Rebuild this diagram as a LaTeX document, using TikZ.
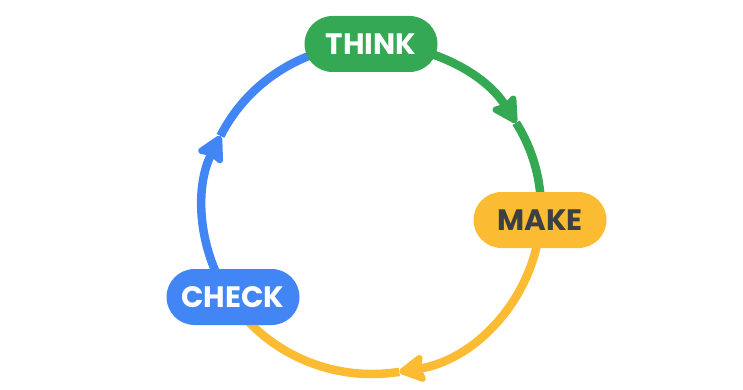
\documentclass[tikz,border=0pt]{standalone}
\usepackage{fontspec}
\setmainfont{Poppins}
\usetikzlibrary{arrows.meta, calc, shapes.misc, backgrounds}
\definecolor{gthink}{HTML}{34A853}
\definecolor{gmake}{HTML}{FBBC33}
\definecolor{gcheck}{HTML}{4285F4}
\definecolor{gtext}{HTML}{3C4043}
\tikzset{
	pill/.style={rounded rectangle, minimum width=133pt, minimum height=56pt, inner sep=0pt,
		font=\fontsize{29.5}{34}\selectfont\bfseries},
	ring/.style={line width=8.5pt},
	tiphead/.style={-{Stealth[length=30pt, width=32pt, inset=4pt, round]}}
}

\begin{document}
\begin{tikzpicture}[x=1pt,y=1pt]
	\useasboundingbox (0,0) rectangle (743,389);
	\coordinate (o) at (372,180);
	\def\rx{169}\def\ry{165}
	% stages
	\node[pill, fill=gthink, text=white] (think) at (371,345) {THINK};
	\node[pill, fill=gmake, text=gtext] (make) at (540,169) {MAKE};
	\node[pill, fill=gcheck, text=white] (check) at (233,92) {CHECK};
	% arcs between stages
	\begin{scope}[on background layer]
		\def\seg#1#2#3#4{
			\draw[ring, #1, tiphead] ($(o)+(#2:\rx pt and \ry pt)$)
				arc[start angle=#2, end angle=#3, x radius=\rx pt, y radius=\ry pt];
			\draw[ring, #1] ($(o)+(#3:\rx pt and \ry pt)$)
				arc[start angle=#3, end angle=#4, x radius=\rx pt, y radius=\ry pt];}
		\seg{gthink}{90}{31.5}{-3.8}      % think -> make
		\seg{gmake}{-3.8}{-80.7}{-147.1}  % make -> check
		\seg{gcheck}{212.9}{153.7}{90}    % check -> think
	\end{scope}
\end{tikzpicture}
\end{document}
